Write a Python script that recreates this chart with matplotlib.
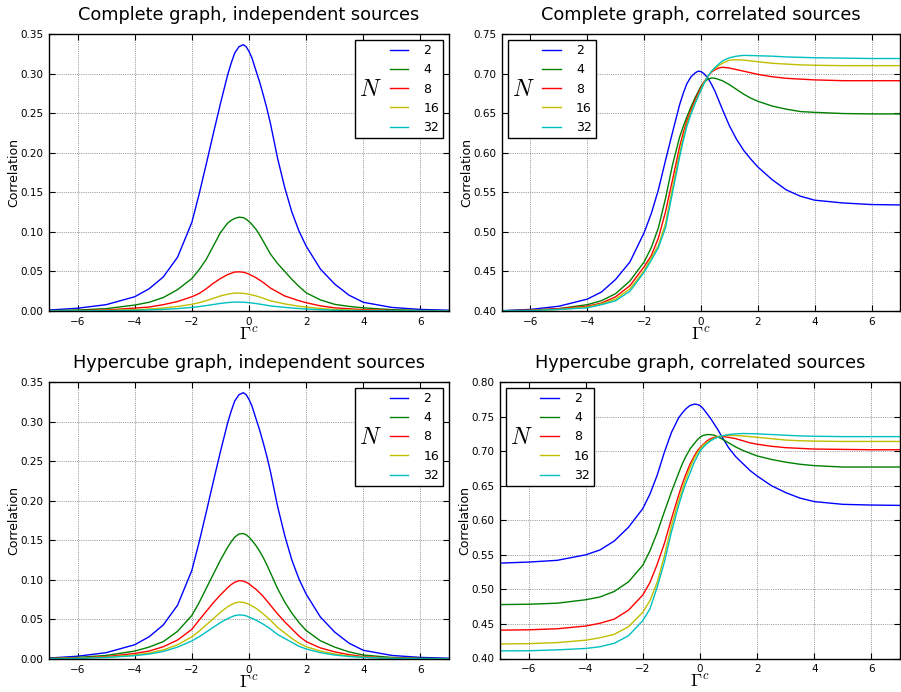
import numpy as np
import matplotlib
matplotlib.use("Agg")
import matplotlib.pyplot as plt
from matplotlib.ticker import FormatStrFormatter
from matplotlib.offsetbox import HPacker

# ---------------- data ----------------
x_vals = [-7, -6, -5, -4, -3.5, -3, -2.5, -2, -1.75, -1.5, -1.25, -1, -0.75, -0.625, -0.5, -0.35, -0.2, -0.1,
          0, 0.1, 0.25, 0.375, 0.5, 0.625, 0.75, 1, 1.25, 1.5, 1.75, 2, 2.5, 3, 3.5, 4, 5, 6, 7]
n_labels = ["2", "4", "8", "16", "32"]

# Complete graph, independent sources
ci_n2 = [0.0012, 0.0035, 0.008, 0.018, 0.028, 0.043, 0.068, 0.112, 0.147, 0.185, 0.224, 0.262, 0.298, 0.313, 0.326, 0.334, 0.3365, 0.334,
         0.328, 0.320, 0.303, 0.289, 0.273, 0.256, 0.237, 0.193, 0.156, 0.125, 0.101, 0.082, 0.053, 0.034, 0.020, 0.011, 0.0045, 0.002, 0.001]
ci_n4 = [0.0005, 0.0012, 0.003, 0.0075, 0.011, 0.017, 0.027, 0.041, 0.052, 0.065, 0.082, 0.099, 0.111, 0.1145, 0.117, 0.1185, 0.118, 0.116,
         0.113, 0.1095, 0.103, 0.096, 0.088, 0.080, 0.072, 0.060, 0.050, 0.040, 0.031, 0.023, 0.014, 0.0084, 0.0058, 0.004, 0.0017, 0.0007, 0.0003]
ci_n8 = [0.0002, 0.0005, 0.0012, 0.0037, 0.005, 0.008, 0.012, 0.018, 0.022, 0.028, 0.035, 0.041, 0.046, 0.0477, 0.0492, 0.0495, 0.049, 0.048,
         0.0465, 0.0448, 0.042, 0.039, 0.036, 0.0325, 0.029, 0.024, 0.019, 0.016, 0.013, 0.0105, 0.0065, 0.004, 0.0028, 0.0017, 0.0007, 0.0003, 0.0001]
ci_n16 = [0.0001, 0.0002, 0.0006, 0.0017, 0.0025, 0.0037, 0.0057, 0.0084, 0.0105, 0.013, 0.016, 0.019, 0.0212, 0.022, 0.0226, 0.0226, 0.0223, 0.0218,
          0.0211, 0.0203, 0.019, 0.0176, 0.0161, 0.0145, 0.0129, 0.011, 0.009, 0.0075, 0.006, 0.005, 0.0032, 0.002, 0.0013, 0.0008, 0.0003, 0.0001, 0.00005]
ci_n32 = [0.00005, 0.0001, 0.0003, 0.0009, 0.0014, 0.002, 0.003, 0.0046, 0.0056, 0.0068, 0.0082, 0.0096, 0.0106, 0.011, 0.0113, 0.0113, 0.0111, 0.0108,
          0.0105, 0.0101, 0.0094, 0.0087, 0.008, 0.0072, 0.0064, 0.0055, 0.0046, 0.0038, 0.0031, 0.0025, 0.0016, 0.001, 0.0006, 0.0004, 0.0002, 0.0001, 0.00005]

# Complete graph, correlated sources
cc_n2 = [0.4004, 0.402, 0.406, 0.415, 0.424, 0.440, 0.462, 0.499, 0.523, 0.553, 0.590, 0.626, 0.661, 0.675, 0.687, 0.696, 0.701, 0.703,
         0.7025, 0.700, 0.694, 0.686, 0.677, 0.666, 0.655, 0.634, 0.617, 0.603, 0.592, 0.582, 0.566, 0.553, 0.545, 0.540, 0.5365, 0.5345, 0.534]
cc_n4 = [0.4003, 0.401, 0.403, 0.408, 0.413, 0.422, 0.438, 0.462, 0.480, 0.505, 0.542, 0.585, 0.620, 0.633, 0.645, 0.658, 0.670, 0.677,
         0.684, 0.689, 0.693, 0.6945, 0.694, 0.6925, 0.691, 0.686, 0.680, 0.674, 0.669, 0.665, 0.659, 0.655, 0.652, 0.651, 0.6495, 0.649, 0.649]
cc_n8 = [0.4002, 0.401, 0.403, 0.406, 0.410, 0.418, 0.432, 0.456, 0.470, 0.492, 0.525, 0.566, 0.608, 0.625, 0.640, 0.654, 0.667, 0.675,
         0.682, 0.689, 0.697, 0.702, 0.705, 0.707, 0.708, 0.707, 0.705, 0.703, 0.701, 0.699, 0.696, 0.694, 0.693, 0.692, 0.691, 0.691, 0.691]
cc_n16 = [0.4002, 0.4005, 0.402, 0.405, 0.409, 0.415, 0.428, 0.451, 0.467, 0.483, 0.510, 0.556, 0.600, 0.619, 0.636, 0.651, 0.664, 0.672,
          0.680, 0.688, 0.697, 0.703, 0.707, 0.710, 0.713, 0.717, 0.7175, 0.717, 0.716, 0.715, 0.713, 0.712, 0.711, 0.7105, 0.710, 0.710, 0.710]
cc_n32 = [0.4001, 0.4005, 0.402, 0.404, 0.408, 0.413, 0.425, 0.449, 0.464, 0.480, 0.505, 0.550, 0.595, 0.615, 0.633, 0.649, 0.663, 0.671,
          0.679, 0.687, 0.697, 0.703, 0.708, 0.712, 0.716, 0.720, 0.722, 0.723, 0.7228, 0.7225, 0.722, 0.721, 0.7205, 0.720, 0.7195, 0.719, 0.719]

# Hypercube graph, independent sources
hi_n2 = [0.0012, 0.0035, 0.008, 0.018, 0.028, 0.043, 0.068, 0.112, 0.147, 0.185, 0.224, 0.262, 0.298, 0.313, 0.326, 0.334, 0.3365, 0.334,
         0.328, 0.320, 0.303, 0.289, 0.273, 0.256, 0.237, 0.193, 0.156, 0.125, 0.101, 0.082, 0.053, 0.034, 0.020, 0.011, 0.0045, 0.002, 0.001]
hi_n4 = [0.0007, 0.002, 0.0045, 0.010, 0.015, 0.022, 0.035, 0.055, 0.071, 0.089, 0.107, 0.125, 0.141, 0.148, 0.154, 0.158, 0.1585, 0.157,
         0.154, 0.150, 0.143, 0.136, 0.128, 0.119, 0.109, 0.089, 0.072, 0.058, 0.046, 0.036, 0.023, 0.015, 0.009, 0.005, 0.002, 0.0009, 0.0004]
hi_n8 = [0.0005, 0.0014, 0.003, 0.007, 0.010, 0.0155, 0.024, 0.0375, 0.049, 0.060, 0.071, 0.081, 0.090, 0.094, 0.097, 0.099, 0.0985, 0.097,
         0.095, 0.092, 0.088, 0.0835, 0.079, 0.0735, 0.068, 0.057, 0.047, 0.038, 0.029, 0.022, 0.014, 0.009, 0.0055, 0.003, 0.0012, 0.0005, 0.0002]
hi_n16 = [0.0004, 0.001, 0.0023, 0.005, 0.0075, 0.0115, 0.018, 0.028, 0.035, 0.043, 0.051, 0.059, 0.066, 0.0685, 0.0708, 0.072, 0.0715, 0.0705,
          0.069, 0.067, 0.064, 0.0605, 0.057, 0.053, 0.049, 0.040, 0.033, 0.026, 0.020, 0.0156, 0.010, 0.0063, 0.004, 0.0023, 0.0009, 0.0004, 0.0002]
hi_n32 = [0.0003, 0.0008, 0.0019, 0.0042, 0.0062, 0.0095, 0.015, 0.0228, 0.028, 0.034, 0.040, 0.046, 0.051, 0.053, 0.0548, 0.0557, 0.0553, 0.0545,
          0.053, 0.0515, 0.049, 0.0465, 0.044, 0.041, 0.038, 0.031, 0.026, 0.021, 0.016, 0.0127, 0.008, 0.005, 0.0032, 0.002, 0.0008, 0.0003, 0.0001]

# Hypercube graph, correlated sources
hc_n2 = [0.538, 0.5395, 0.542, 0.550, 0.557, 0.570, 0.590, 0.617, 0.638, 0.665, 0.698, 0.727, 0.748, 0.755, 0.761, 0.766, 0.768, 0.7675,
         0.766, 0.762, 0.754, 0.747, 0.739, 0.731, 0.722, 0.705, 0.692, 0.682, 0.672, 0.664, 0.650, 0.640, 0.632, 0.627, 0.623, 0.622, 0.6215]
hc_n4 = [0.478, 0.4785, 0.480, 0.485, 0.489, 0.497, 0.511, 0.535, 0.556, 0.582, 0.612, 0.641, 0.668, 0.681, 0.692, 0.703, 0.711, 0.716,
         0.720, 0.7225, 0.724, 0.7238, 0.723, 0.7207, 0.718, 0.712, 0.706, 0.701, 0.697, 0.693, 0.688, 0.684, 0.681, 0.679, 0.677, 0.677, 0.677]
hc_n8 = [0.441, 0.4415, 0.443, 0.447, 0.451, 0.457, 0.470, 0.492, 0.510, 0.536, 0.566, 0.602, 0.636, 0.652, 0.666, 0.681, 0.693, 0.700,
         0.705, 0.709, 0.715, 0.718, 0.720, 0.721, 0.7215, 0.720, 0.718, 0.715, 0.712, 0.710, 0.707, 0.705, 0.704, 0.703, 0.7025, 0.702, 0.702]
hc_n16 = [0.421, 0.4215, 0.423, 0.4265, 0.430, 0.435, 0.446, 0.467, 0.484, 0.510, 0.548, 0.592, 0.628, 0.644, 0.659, 0.676, 0.690, 0.697,
          0.703, 0.708, 0.713, 0.716, 0.719, 0.721, 0.722, 0.723, 0.7225, 0.722, 0.721, 0.720, 0.718, 0.716, 0.715, 0.7145, 0.714, 0.714, 0.714]
hc_n32 = [0.411, 0.4112, 0.4125, 0.4145, 0.417, 0.422, 0.433, 0.455, 0.472, 0.503, 0.539, 0.583, 0.621, 0.638, 0.653, 0.668, 0.684, 0.692,
          0.700, 0.705, 0.711, 0.715, 0.718, 0.720, 0.722, 0.724, 0.725, 0.7255, 0.7253, 0.725, 0.724, 0.723, 0.722, 0.7215, 0.721, 0.721, 0.721]

titles = ["Complete graph, independent sources", "Complete graph, correlated sources",
          "Hypercube graph, independent sources", "Hypercube graph, correlated sources"]
xticks = [-6, -4, -2, 0, 2, 4, 6]
yticks_ind = [0.00, 0.05, 0.10, 0.15, 0.20, 0.25, 0.30, 0.35]
yticks_cc = [0.40, 0.45, 0.50, 0.55, 0.60, 0.65, 0.70, 0.75]
yticks_hc = [0.40, 0.45, 0.50, 0.55, 0.60, 0.65, 0.70, 0.75, 0.80]

# ---------------- style ----------------
plt.rcParams.update({
    "font.family": ["DejaVu Sans"],
    "mathtext.fontset": "cm",
    "xtick.direction": "in", "ytick.direction": "in",
    "xtick.top": True, "ytick.right": True,
    "xtick.major.size": 4, "ytick.major.size": 4,
    "xtick.labelsize": 7.5, "ytick.labelsize": 7.5,
    "xtick.major.pad": 4, "ytick.major.pad": 4,
    "axes.linewidth": 1.0,
    "grid.color": "0.3", "grid.linestyle": ":", "grid.linewidth": 0.5,
    "lines.linewidth": 1.0,
})

colors = [(0, 0, 1), (0, 0.5, 0), (1, 0, 0), (0.75, 0.75, 0), (0, 0.75, 0.75)]

fig = plt.figure(figsize=(9.01, 6.92), dpi=100)
W, H = 901.0, 692.0
rects = [
    [49 / W, (H - 311) / H, 400 / W, 277 / H],
    [502 / W, (H - 311) / H, 398 / W, 277 / H],
    [49 / W, (H - 659) / H, 400 / W, 277 / H],
    [500 / W, (H - 658.5) / H, 400 / W, 276.5 / H],
]
panels = [
    ([ci_n2, ci_n4, ci_n8, ci_n16, ci_n32], (0.0, 0.35), yticks_ind, "upper right"),
    ([cc_n2, cc_n4, cc_n8, cc_n16, cc_n32], (0.40, 0.75), yticks_cc, "upper left"),
    ([hi_n2, hi_n4, hi_n8, hi_n16, hi_n32], (0.0, 0.35), yticks_ind, "upper right"),
    ([hc_n2, hc_n4, hc_n8, hc_n16, hc_n32], (0.40, 0.80), yticks_hc, "upper left"),
]


def side_title_legend(ax, loc):
    leg = ax.legend(loc=loc, fontsize=9, title="$N$", title_fontsize=17,
                    handlelength=1.5, handletextpad=1.2, borderpad=0.3,
                    labelspacing=0.5, borderaxespad=0.5, fancybox=False,
                    frameon=True, framealpha=1.0, edgecolor="k")
    leg.get_frame().set_linewidth(1.0)
    try:
        fs = leg._fontsize
        box = HPacker(pad=leg.borderpad * fs, sep=0.6 * fs, align="center",
                      children=[leg._legend_title_box, leg._legend_handle_box])
        box.set_figure(ax.figure)
        box.axes = ax
        box.set_offset(leg._findoffset)
        leg._legend_box = box
    except Exception:
        pass
    return leg


for rect, title, (series, ylim, yt, loc) in zip(rects, titles, panels):
    ax = fig.add_axes(rect)
    for ys, lab, col in zip(series, n_labels, colors):
        ax.plot(x_vals, ys, color=col, label=lab)
    ax.set_xlim(-7, 7)
    ax.set_ylim(*ylim)
    ax.set_xticks(xticks)
    ax.set_yticks(yt)
    ax.yaxis.set_major_formatter(FormatStrFormatter("%.2f"))
    ax.grid(True)
    ax.set_title(title, fontsize=12.8, pad=10)
    ax.set_xlabel(r"$\mathit{\Gamma}^c$", fontsize=13, labelpad=0)
    ax.set_ylabel("Correlation", fontsize=9, labelpad=0)
    side_title_legend(ax, loc)

fig.savefig("out.png", dpi=100, facecolor="white")
